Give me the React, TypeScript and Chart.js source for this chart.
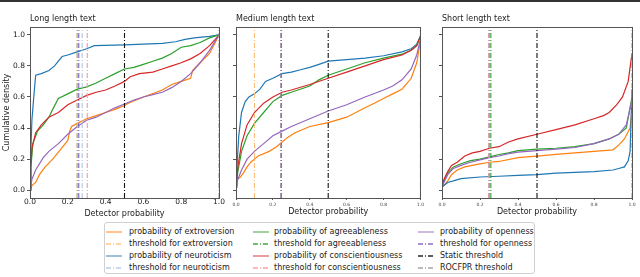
import React, { useEffect, useRef } from 'react';
import { Chart, registerables } from 'chart.js';
Chart.register(...registerables);

type Pt = [number, number];

const panelTitles = ['Long length text', 'Medium length text', 'Short length text'];
const xTickValues = [0, 0.2, 0.4, 0.6, 0.8, 1.0];
const yTickValues = [0, 0.2, 0.4, 0.6, 0.8, 1.0];
const traitNames = ['extroversion', 'neuroticism', 'agreeableness', 'conscientiousness', 'openness'];

// ---- Long length text ----
const longExtroversion: Pt[] = [[0,0],[0.01,0.03],[0.03,0.05],[0.05,0.1],[0.08,0.15],[0.12,0.2],[0.16,0.26],[0.2,0.32],[0.21,0.38],[0.22,0.41],[0.25,0.43],[0.3,0.46],[0.35,0.48],[0.4,0.5],[0.45,0.52],[0.5,0.545],[0.52,0.56],[0.6,0.6],[0.7,0.645],[0.75,0.68],[0.8,0.7],[0.85,0.72],[0.86,0.77],[0.9,0.82],[0.95,0.88],[0.98,0.95],[1,1]];
const longNeuroticism: Pt[] = [[0,0],[0.003,0.2],[0.01,0.45],[0.02,0.6],[0.03,0.74],[0.06,0.75],[0.1,0.77],[0.13,0.8],[0.15,0.83],[0.17,0.86],[0.2,0.87],[0.25,0.89],[0.3,0.91],[0.34,0.93],[0.5,0.935],[0.6,0.94],[0.7,0.945],[0.77,0.955],[0.82,0.97],[0.87,0.98],[0.95,0.99],[1,1]];
const longAgreeableness: Pt[] = [[0,0],[0.005,0.15],[0.015,0.3],[0.04,0.38],[0.07,0.42],[0.1,0.47],[0.12,0.52],[0.15,0.59],[0.2,0.62],[0.25,0.65],[0.3,0.665],[0.35,0.69],[0.4,0.72],[0.45,0.75],[0.5,0.78],[0.55,0.79],[0.6,0.81],[0.65,0.83],[0.7,0.85],[0.75,0.88],[0.8,0.92],[0.85,0.93],[0.9,0.95],[0.95,0.98],[1,1]];
const longConscientiousness: Pt[] = [[0,0],[0.004,0.15],[0.01,0.27],[0.03,0.37],[0.06,0.42],[0.1,0.47],[0.15,0.5],[0.2,0.55],[0.25,0.58],[0.3,0.61],[0.35,0.63],[0.4,0.645],[0.45,0.67],[0.5,0.7],[0.53,0.73],[0.58,0.75],[0.65,0.76],[0.7,0.78],[0.75,0.8],[0.8,0.82],[0.85,0.845],[0.9,0.88],[0.95,0.93],[0.98,0.97],[1,1]];
const longOpenness: Pt[] = [[0,0],[0.01,0.07],[0.03,0.13],[0.07,0.21],[0.1,0.25],[0.15,0.3],[0.2,0.36],[0.25,0.41],[0.3,0.45],[0.35,0.47],[0.4,0.5],[0.45,0.53],[0.5,0.555],[0.55,0.58],[0.6,0.6],[0.65,0.615],[0.7,0.63],[0.75,0.66],[0.8,0.7],[0.85,0.75],[0.9,0.82],[0.95,0.9],[0.98,0.96],[1,1]];
const longThresholds = [0.25, 0.276, 0.25, 0.303, 0.258];

// ---- Medium length text ----
const mediumExtroversion: Pt[] = [[0,0.03],[0.005,0.07],[0.02,0.08],[0.04,0.11],[0.06,0.15],[0.08,0.18],[0.1,0.2],[0.12,0.22],[0.18,0.25],[0.22,0.28],[0.25,0.31],[0.28,0.34],[0.32,0.37],[0.4,0.41],[0.5,0.435],[0.6,0.47],[0.7,0.53],[0.75,0.56],[0.8,0.59],[0.85,0.62],[0.9,0.65],[0.95,0.72],[0.98,0.82],[1,0.96]];
const mediumNeuroticism: Pt[] = [[0,0.02],[0.005,0.15],[0.015,0.35],[0.03,0.5],[0.05,0.57],[0.07,0.6],[0.1,0.62],[0.13,0.65],[0.16,0.7],[0.2,0.72],[0.25,0.75],[0.3,0.76],[0.35,0.775],[0.4,0.79],[0.45,0.81],[0.5,0.83],[0.6,0.84],[0.7,0.85],[0.8,0.865],[0.9,0.89],[0.95,0.91],[0.98,0.94],[1,0.99]];
const mediumAgreeableness: Pt[] = [[0,0.02],[0.01,0.12],[0.03,0.25],[0.06,0.35],[0.1,0.43],[0.15,0.5],[0.2,0.57],[0.25,0.61],[0.3,0.63],[0.4,0.67],[0.45,0.71],[0.5,0.74],[0.6,0.78],[0.7,0.82],[0.8,0.85],[0.9,0.875],[0.95,0.9],[0.98,0.93],[1,0.99]];
const mediumConscientiousness: Pt[] = [[0,0.02],[0.01,0.15],[0.03,0.3],[0.06,0.42],[0.1,0.5],[0.15,0.56],[0.2,0.6],[0.25,0.63],[0.3,0.645],[0.4,0.68],[0.5,0.72],[0.6,0.76],[0.7,0.8],[0.8,0.84],[0.9,0.87],[0.95,0.9],[0.98,0.93],[1,0.99]];
const mediumOpenness: Pt[] = [[0,0.02],[0.01,0.07],[0.03,0.13],[0.06,0.2],[0.1,0.25],[0.15,0.3],[0.2,0.35],[0.25,0.38],[0.3,0.41],[0.4,0.46],[0.5,0.51],[0.6,0.55],[0.7,0.6],[0.8,0.645],[0.85,0.67],[0.9,0.71],[0.95,0.78],[0.98,0.87],[1,0.97]];
const mediumThresholds = [0.1, 0.245, 0.245, 0.245, 0.245];

// ---- Short length text ----
const shortExtroversion: Pt[] = [[0,0.02],[0.01,0.03],[0.03,0.06],[0.05,0.1],[0.08,0.13],[0.12,0.15],[0.2,0.17],[0.25,0.18],[0.3,0.185],[0.4,0.21],[0.5,0.22],[0.6,0.23],[0.7,0.24],[0.8,0.25],[0.9,0.26],[0.93,0.29],[0.96,0.33],[0.99,0.4],[1,0.52]];
const shortNeuroticism: Pt[] = [[0,0.02],[0.01,0.03],[0.03,0.05],[0.06,0.06],[0.1,0.075],[0.2,0.085],[0.3,0.09],[0.4,0.095],[0.5,0.1],[0.6,0.11],[0.7,0.115],[0.8,0.12],[0.9,0.13],[0.93,0.14],[0.96,0.15],[0.98,0.19],[0.99,0.25],[1,0.65]];
const shortAgreeableness: Pt[] = [[0,0.02],[0.01,0.06],[0.03,0.11],[0.06,0.15],[0.1,0.17],[0.15,0.19],[0.2,0.2],[0.25,0.215],[0.3,0.23],[0.35,0.24],[0.4,0.255],[0.5,0.265],[0.6,0.27],[0.7,0.28],[0.8,0.3],[0.88,0.33],[0.93,0.36],[0.97,0.4],[1,0.6]];
const shortConscientiousness: Pt[] = [[0,0.02],[0.01,0.07],[0.03,0.12],[0.05,0.16],[0.08,0.18],[0.12,0.22],[0.16,0.24],[0.2,0.25],[0.25,0.27],[0.3,0.28],[0.35,0.31],[0.4,0.33],[0.5,0.36],[0.6,0.39],[0.7,0.42],[0.8,0.46],[0.85,0.48],[0.88,0.5],[0.92,0.55],[0.95,0.6],[0.98,0.7],[1,0.88]];
const shortOpenness: Pt[] = [[0,0.02],[0.01,0.05],[0.03,0.1],[0.06,0.14],[0.1,0.16],[0.15,0.18],[0.2,0.195],[0.25,0.21],[0.3,0.22],[0.35,0.235],[0.4,0.245],[0.5,0.255],[0.6,0.265],[0.7,0.275],[0.8,0.3],[0.88,0.33],[0.93,0.36],[0.97,0.42],[1,0.58]];
const shortThresholds = [0.248, 0.248, 0.257, 0.248, 0.248];

const staticThresholds = [0.5, 0.5, 0.5];
const rocfprThresholds = [1.0, 1.0, 1.0];

const panelCurves: Pt[][][] = [
  [longExtroversion, longNeuroticism, longAgreeableness, longConscientiousness, longOpenness],
  [mediumExtroversion, mediumNeuroticism, mediumAgreeableness, mediumConscientiousness, mediumOpenness],
  [shortExtroversion, shortNeuroticism, shortAgreeableness, shortConscientiousness, shortOpenness],
];
const panelThresholds = [longThresholds, mediumThresholds, shortThresholds];

const curveColors = ['#ff7f0e', '#1f77b4', '#2ca02c', '#d62728', '#9467bd'];
const thresholdColors = ['#ffbb78', '#aec7e8', '#2ca02c', '#ff9896', '#7b5fc0'];
// draw order of thresholds per panel (lower = on top)
const thresholdOrders = [
  [9, 8, 10, 7, 6],
  [9, 10, 8, 7, 6],
  [10, 9, 6, 7, 8],
];
const staticColor = '#111111';
const rocColor = '#999999';
const DASHDOT = [5, 2, 1, 2];
const FONT = 'DejaVu Sans';

const layouts = [
  { left: 0, width: 225, yWidth: 30, padRight: 6, big: true },
  { left: 226, width: 200, yWidth: 10, padRight: 3, big: false },
  { left: 432, width: 208, yWidth: 10, padRight: 8, big: false },
];

const framePlugin = {
  id: 'frameTitle',
  afterDraw(chart: any, _args: any, opts: any) {
    const { ctx, chartArea } = chart;
    const { left, top, right, bottom } = chartArea;
    ctx.save();
    ctx.strokeStyle = '#555';
    ctx.lineWidth = 1;
    ctx.strokeRect(Math.round(left) + 0.5, Math.round(top) + 0.5, Math.round(right - left), Math.round(bottom - top));
    ctx.fillStyle = '#222';
    ctx.font = `8px "${FONT}"`;
    ctx.textBaseline = 'middle';
    ctx.textAlign = 'left';
    ctx.fillText(opts.text, left, 19);
    ctx.restore();
  },
};

function vline(x: number, color: string, order: number) {
  return {
    data: [{ x, y: -0.05 }, { x, y: 1.05 }],
    borderColor: color,
    borderWidth: 1.1,
    borderDash: DASHDOT,
    showLine: true,
    pointRadius: 0,
    order,
  };
}

function Panel({ index }: { index: number }) {
  const ref = useRef<HTMLCanvasElement | null>(null);
  const lay = layouts[index];
  useEffect(() => {
    if (!ref.current) return;
    const curves = panelCurves[index];
    const datasets: any[] = [];
    curves.forEach((c, i) => {
      datasets.push({
        label: 'probability of ' + traitNames[i],
        data: c.map(([x, y]) => ({ x, y })),
        borderColor: curveColors[i],
        borderWidth: 1.2,
        showLine: true,
        pointRadius: 0,
        order: 20 - i,
      });
    });
    panelThresholds[index].forEach((t, i) => {
      datasets.push({ label: 'threshold for ' + traitNames[i], ...vline(t, thresholdColors[i], thresholdOrders[index][i]) });
    });
    datasets.push({ label: 'Static threshold', ...vline(staticThresholds[index], staticColor, 2) });
    datasets.push({ label: 'ROCFPR threshold', ...vline(rocfprThresholds[index], rocColor, 1) });

    const tickFont = lay.big ? 7.5 : 4.5;
    const chart = new Chart(ref.current, {
      type: 'scatter',
      data: { datasets },
      plugins: [framePlugin as any],
      options: {
        animation: false,
        responsive: false,
        events: [],
        layout: { padding: { top: 27, right: lay.padRight, left: 0, bottom: 0 } },
        plugins: {
          legend: { display: false },
          tooltip: { enabled: false },
          frameTitle: { text: panelTitles[index] },
        } as any,
        scales: {
          x: {
            type: 'linear',
            min: 0,
            max: 1,
            afterBuildTicks: (s: any) => { s.ticks = xTickValues.map((v) => ({ value: v })); },
            afterFit: (s: any) => { s.height = 22; },
            ticks: {
              font: { size: tickFont, family: FONT },
              color: lay.big ? '#222' : '#444',
              padding: lay.big ? 0 : 2,
              maxRotation: 0,
              autoSkip: false,
              callback: (v: any) => Number(v).toFixed(1),
            },
            grid: { display: true, drawOnChartArea: false, drawTicks: !lay.big, tickLength: 2, color: '#555' },
            border: { display: false },
            title: {
              display: true,
              text: 'Detector probability',
              font: { size: 8, family: FONT },
              color: '#222',
              padding: { top: 0, bottom: lay.big ? 1 : 3 },
            },
          },
          y: {
            type: 'linear',
            min: -0.05,
            max: 1.05,
            afterBuildTicks: (s: any) => { s.ticks = yTickValues.map((v) => ({ value: v })); },
            afterFit: (s: any) => { s.width = lay.yWidth; },
            ticks: {
              display: lay.big,
              font: { size: 7.5, family: FONT },
              color: '#222',
              padding: 2,
              callback: (v: any) => Number(v).toFixed(1),
            },
            grid: { display: true, drawOnChartArea: false, drawTicks: true, tickLength: 3, color: '#555' },
            border: { display: false },
            title: {
              display: lay.big,
              text: 'Cumulative density',
              font: { size: 8, family: FONT },
              color: '#222',
              padding: { top: 2.5, bottom: 0 },
            },
          },
        },
      },
    });
    return () => chart.destroy();
  }, [index]);
  return (
    <canvas
      ref={ref}
      width={lay.width}
      height={220}
      style={{ position: 'absolute', left: lay.left, top: 0, width: lay.width, height: 220 }}
    />
  );
}

const legendColumns = [
  [
    { label: 'probability of extroversion', color: curveColors[0], dash: false },
    { label: 'threshold for extroversion', color: thresholdColors[0], dash: true },
    { label: 'probability of neuroticism', color: curveColors[1], dash: false },
    { label: 'threshold for neuroticism', color: thresholdColors[1], dash: true },
  ],
  [
    { label: 'probability of agreeableness', color: curveColors[2], dash: false },
    { label: 'threshold for agreeableness', color: thresholdColors[2], dash: true },
    { label: 'probability of conscientiousness', color: curveColors[3], dash: false },
    { label: 'threshold for conscientiousness', color: thresholdColors[3], dash: true },
  ],
  [
    { label: 'probability of openness', color: curveColors[4], dash: false },
    { label: 'threshold for openness', color: thresholdColors[4], dash: true },
    { label: 'Static threshold', color: staticColor, dash: true },
    { label: 'ROCFPR threshold', color: rocColor, dash: true },
  ],
];
const legendLineLeft = [1, 148, 313];
const legendTextLeft = [24, 169, 335];

function Legend() {
  return (
    <div
      style={{
        position: 'absolute', left: 104, top: 222, width: 431, height: 52,
        border: '1px solid #d0d0d0', borderRadius: 3, background: '#fff', boxSizing: 'border-box',
        fontFamily: FONT, fontSize: 8, color: '#222',
      }}
    >
      {legendColumns.map((col, ci) =>
        col.map((it, ri) => {
          const cy = 8.5 + ri * 12.1;
          return (
            <React.Fragment key={ci + '-' + ri}>
              <svg
                width={16}
                height={4}
                style={{ position: 'absolute', left: legendLineLeft[ci], top: cy - 2 }}
              >
                <line
                  x1={0} y1={2} x2={16} y2={2}
                  stroke={it.color}
                  strokeOpacity={it.dash ? 0.9 : 0.7}
                  strokeWidth={1.3}
                  strokeDasharray={it.dash ? '5,2,1,2' : undefined}
                />
              </svg>
              <span
                style={{ position: 'absolute', left: legendTextLeft[ci], top: cy - 5, lineHeight: '10px', whiteSpace: 'nowrap' }}
              >
                {it.label}
              </span>
            </React.Fragment>
          );
        })
      )}
    </div>
  );
}

export default function App() {
  return (
    <div style={{ position: 'absolute', left: 0, top: 0, width: 640, height: 277, background: '#fff', overflow: 'hidden' }}>
      <div style={{ position: 'absolute', left: 0, top: 0, width: 640, height: 2, background: '#333' }} />
      <Panel index={0} />
      <Panel index={1} />
      <Panel index={2} />
      <Legend />
    </div>
  );
}
